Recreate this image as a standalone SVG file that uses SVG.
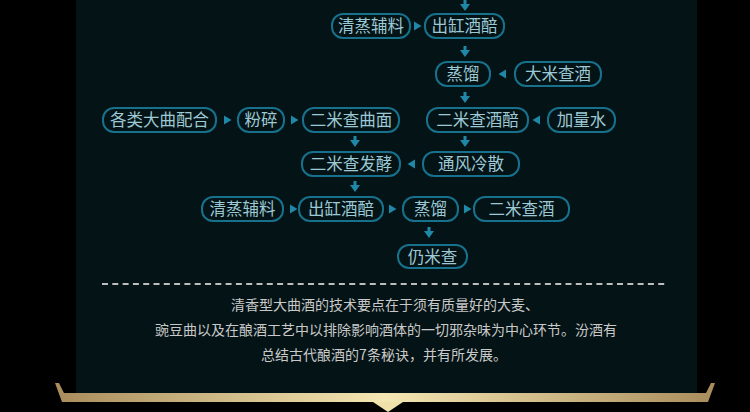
<svg xmlns="http://www.w3.org/2000/svg" width="750" height="412" viewBox="0 0 750 412">
<defs>
<style>
.node rect{fill:#041315;stroke:#17718c;stroke-width:2}
.node text{font-family:"Noto Sans CJK SC","Noto Sans",sans-serif;font-size:16.5px;fill:#9cc9d6;text-anchor:middle}
.arr{fill:#1f88a8}
.para{font-family:"Noto Sans CJK SC","Noto Sans",sans-serif;font-size:14px;fill:#c9c9c9;text-anchor:middle}
</style>
<path id="ar" class="arr" d="M-3,-4.5 L4.5,0 L-3,4.5 Z"/>
<path id="al" class="arr" d="M3,-4.5 L-4.5,0 L3,4.5 Z"/>
<path id="ad" class="arr" d="M-1.5,0 H1.5 V4 H5 L0,11 L-5,4 H-1.5 Z"/>
<linearGradient id="gold" x1="0" y1="0" x2="1" y2="0">
<stop offset="0" stop-color="#a98c5c"/>
<stop offset="0.5" stop-color="#f4e6b2"/>
<stop offset="1" stop-color="#a98c5c"/>
</linearGradient>
</defs>
<rect width="750" height="412" fill="#000"/>
<rect x="76" y="0" width="621" height="393" fill="#041315"/>

<g id="connectors">
<use href="#ad" x="465" y="0"/>
<use href="#ar" x="417" y="26"/>
<use href="#ad" x="465" y="46"/>
<use href="#al" x="503" y="74"/>
<use href="#ad" x="465" y="92"/>
<use href="#ar" x="227" y="120"/>
<use href="#ar" x="294" y="120"/>
<use href="#al" x="537" y="120"/>
<use href="#ad" x="355" y="136"/>
<use href="#ad" x="465" y="136"/>
<use href="#al" x="412" y="164"/>
<use href="#ad" x="355" y="181"/>
<use href="#ar" x="293" y="209"/>
<use href="#ar" x="392" y="209"/>
<use href="#ar" x="467" y="209"/>
<use href="#ad" x="429" y="227"/>
</g>

<g id="n1" class="node"><rect x="332" y="14" width="78" height="24" rx="11"/><text x="371" y="32">清蒸辅料</text></g>
<g id="n2" class="node"><rect x="425" y="14" width="79" height="24" rx="11"/><text x="464.5" y="32">出缸酒醅</text></g>
<g id="n3" class="node"><rect x="436" y="62" width="54" height="24" rx="11"/><text x="463" y="80">蒸馏</text></g>
<g id="n4" class="node"><rect x="515" y="62" width="86" height="24" rx="11"/><text x="558" y="80">大米查酒</text></g>
<g id="n5" class="node"><rect x="103" y="108" width="113" height="24" rx="11"/><text x="159.5" y="126">各类大曲配合</text></g>
<g id="n6" class="node"><rect x="238" y="108" width="46" height="24" rx="11"/><text x="261" y="126">粉碎</text></g>
<g id="n7" class="node"><rect x="303" y="108" width="96" height="24" rx="11"/><text x="351" y="126">二米查曲面</text></g>
<g id="n8" class="node"><rect x="427" y="108" width="101" height="24" rx="11"/><text x="477.5" y="126">二米查酒醅</text></g>
<g id="n9" class="node"><rect x="548" y="108" width="67" height="24" rx="11"/><text x="581.5" y="126">加量水</text></g>
<g id="n10" class="node"><rect x="302" y="152" width="98" height="24" rx="11"/><text x="351" y="170">二米查发酵</text></g>
<g id="n11" class="node"><rect x="423" y="152" width="96" height="24" rx="11"/><text x="471" y="170">通风冷散</text></g>
<g id="n12" class="node"><rect x="202" y="197" width="81" height="24" rx="11"/><text x="242.5" y="215">清蒸辅料</text></g>
<g id="n13" class="node"><rect x="299" y="197" width="84" height="24" rx="11"/><text x="341" y="215">出缸酒醅</text></g>
<g id="n14" class="node"><rect x="403" y="197" width="55" height="24" rx="11"/><text x="430.5" y="215">蒸馏</text></g>
<g id="n15" class="node"><rect x="474" y="197" width="95" height="24" rx="11"/><text x="521.5" y="215">二米查酒</text></g>
<g id="n16" class="node"><rect x="398" y="245" width="69" height="23" rx="11"/><text x="432.5" y="262.5">仍米查</text></g>

<line x1="102" y1="284" x2="666" y2="284" stroke="#bdbdbd" stroke-width="2" stroke-dasharray="6 4.3"/>

<text class="para" x="385" y="310">清香型大曲酒的技术要点在于须有质量好的大麦、</text>
<text class="para" x="386" y="335">豌豆曲以及在酿酒工艺中以排除影响酒体的一切邪杂味为中心环节。汾酒有</text>
<text class="para" x="384" y="360">总结古代酿酒的7条秘诀，并有所发展。</text>

<polygon points="55,383 59,383 64,393 706,393 711,383 715,383 708,402 62,402" fill="url(#gold)"/>
<polygon points="373,402 403,402 388,412" fill="#f0e0aa"/>
</svg>
